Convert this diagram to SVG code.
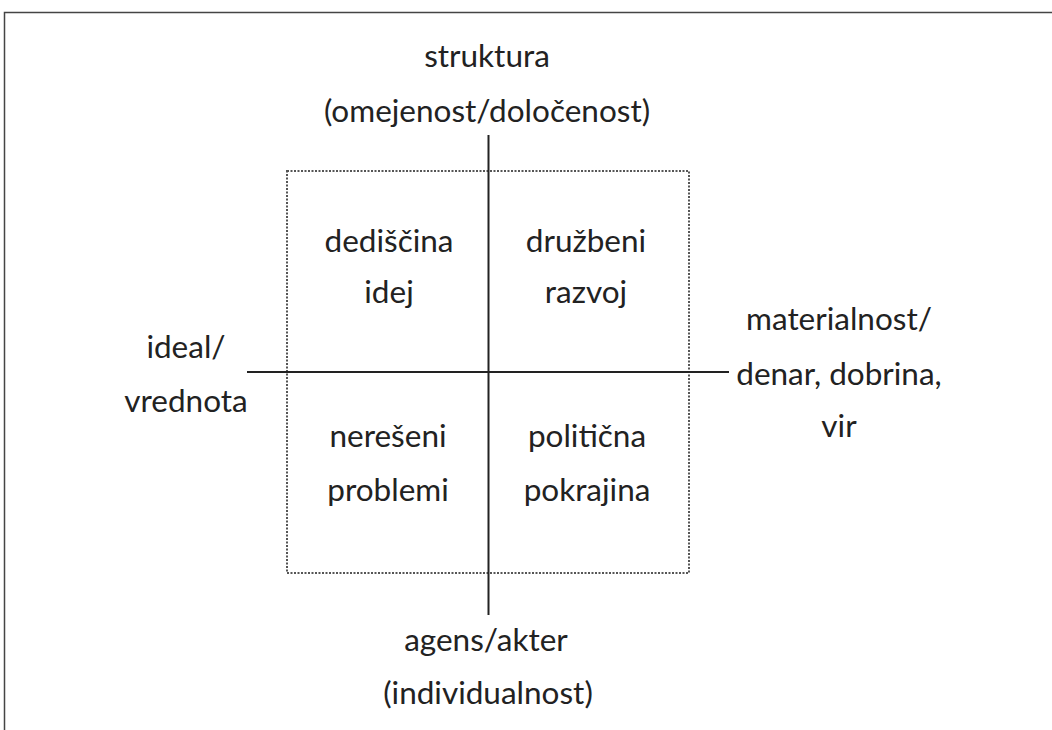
<svg xmlns="http://www.w3.org/2000/svg" width="1052" height="730" viewBox="0 0 1052 730">
<style>
text{font-family:Lato,"Open Sans",sans-serif;font-size:31.5px;fill:#222;text-anchor:middle}
.ax{stroke:#222;stroke-width:2;fill:none}
.box{stroke:#555;stroke-width:2;stroke-dasharray:2 1.5;fill:none}
</style>
<rect width="1052" height="730" fill="#fff"/>
<g id="frame"><path d="M4.5 730V12.5H1052" stroke="#444" stroke-width="1.5" fill="none"/></g>
<g id="box"><rect class="box" x="287" y="171" width="402" height="402"/></g>
<g id="connectors">
<line class="ax" x1="488.5" y1="135" x2="488.5" y2="615"/>
<line class="ax" x1="247" y1="372" x2="729" y2="372"/>
</g>
<g id="top"><text x="487" y="67">struktura</text><text x="487" y="122">(omejenost/določenost)</text></g>
<g id="bottom"><text x="486" y="651">agens/akter</text><text x="488" y="704">(individualnost)</text></g>
<g id="left"><text x="186" y="358">ideal/</text><text x="186" y="412">vrednota</text></g>
<g id="right"><text x="839" y="330">materialnost/</text><text x="839" y="385">denar, dobrina,</text><text x="839" y="437">vir</text></g>
<g id="q1"><text x="389" y="252">dediščina</text><text x="389" y="303">idej</text></g>
<g id="q2"><text x="586" y="252">družbeni</text><text x="586" y="303">razvoj</text></g>
<g id="q3"><text x="388" y="447">nerešeni</text><text x="388" y="501">problemi</text></g>
<g id="q4"><text x="587" y="447">politična</text><text x="587" y="501">pokrajina</text></g>
</svg>
